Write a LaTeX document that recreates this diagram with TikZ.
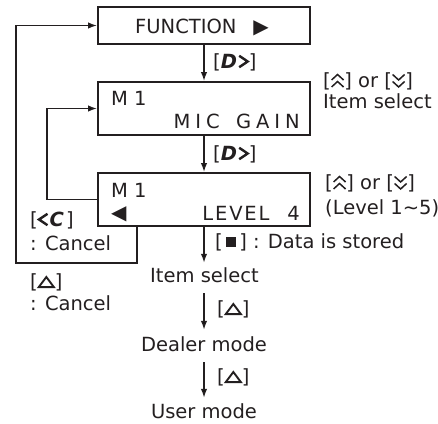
\documentclass[tikz,border=0pt]{standalone}
\usepackage{fontspec}
\setmainfont{DejaVu Sans}
\usetikzlibrary{arrows.meta}
\definecolor{ink}{HTML}{231F20}
\newcommand{\dblup}{\tikz[baseline=0pt,x=1pt,y=1pt,line width=1.5pt,line join=miter]{\draw (0,0)--(6,5.5)--(12,0);\draw (0,7)--(6,12.5)--(12,7);}}
\newcommand{\dbldn}{\tikz[baseline=0pt,x=1pt,y=1pt,line width=1.5pt,line join=miter]{\draw (0,12.5)--(6,7)--(12,12.5);\draw (0,5.5)--(6,0)--(12,5.5);}}
\newcommand{\trikey}{\tikz[baseline=0pt,x=1pt,y=1pt,line width=1.9pt,line join=miter]\draw (0.9,0.9)--(16,0.9)--(8.5,11)--cycle;}
\newcommand{\sqkey}{\tikz[baseline=0pt,x=1pt,y=1pt]\fill (0,1.5) rectangle (10,11.5);}
\newcommand{\rchev}{\tikz[baseline=0pt,x=1pt,y=1pt,line width=2.4pt,line join=miter]\draw (0,0.8)--(8.5,6.5)--(0,12.2);}
\newcommand{\lchev}{\tikz[baseline=0pt,x=1pt,y=1pt,line width=2.4pt,line join=miter]\draw (8.5,0.8)--(0,6.5)--(8.5,12.2);}
\newcommand{\Dkey}{[\textbf{\textit{D}}\kern1pt\rchev]}
\newcommand{\Ckey}{[\lchev\kern1pt\textbf{\textit{C}}\kern2pt]}
\begin{document}
\begin{tikzpicture}[x=1pt,y=-1pt,line cap=butt,
  box/.style={draw=ink,line width=1.9pt,minimum width=212pt,inner sep=0pt},
  txt/.style={inner sep=0pt,text=ink,font=\fontsize{19.5pt}{23pt}\selectfont},
  flowtxt/.style={txt,text height=14pt,text depth=4pt},
  conn/.style={draw=ink,line width=1.5pt,-{Latex[length=9pt,width=6.5pt]}}]
\useasboundingbox (0,0) rectangle (438,423);
% boxes
\node[box,minimum height=37pt] (fn) at (204,25.5) {};
\node[box,minimum height=53pt] (mic) at (204,108.5) {};
\node[box,minimum height=53pt] (lvl) at (204,199.5) {};
% box texts
\node[txt,anchor=base west] (fnt) at (135,33) {FUNCTION\hspace{17pt}{\fontsize{20pt}{20pt}\selectfont ▶}};
\node[txt,anchor=base west] (m1a) at (111,105) {M 1};
\node[txt,anchor=base east] (mg) at (300,128) {M\kern5pt I\kern5pt C\kern5pt\ \kern5pt G\kern5pt A\kern5pt I\kern5pt N};
\node[txt,anchor=base west] (m1b) at (111,197) {M 1};
\node[txt,anchor=base west] (lt) at (111,219.5) {{\fontsize{20pt}{20pt}\selectfont ◀}};
\node[txt,anchor=base east] (lv) at (300,220) {L\kern1.8pt E\kern1.8pt V\kern1.8pt E\kern1.8pt L\hspace{18pt}4};
% right labels
\node[txt,anchor=base west] (r1) at (323,87) {[\dblup] or [\dbldn]};
\node[txt,anchor=base west] (r2) at (323,108) {Item select};
\node[txt,anchor=base west] (r3) at (325,189) {[\dblup] or [\dbldn]};
\node[txt,anchor=base west] (r4) at (325,214) {(Level 1\char`\~5)};
% arrow labels
\node[txt,anchor=base west] (d1) at (213,68) {\Dkey};
\node[txt,anchor=base west] (d2) at (213,160) {\Dkey};
\node[txt,anchor=base west] (st) at (215,248) {[\,\sqkey\,] : Data is stored};
\node[txt,anchor=base west] (u1) at (217,315) {[\trikey]};
\node[txt,anchor=base west] (u2) at (217,383) {[\trikey]};
% flow texts
\node[flowtxt,anchor=base] (itm) at (204.5,282) {Item select};
\node[flowtxt,anchor=base] (dlr) at (204,351) {Dealer mode};
\node[flowtxt,anchor=base] (usr) at (204,418) {User mode};
% left labels
\node[txt,anchor=base west] (c1) at (30,226) {\Ckey};
\node[txt,anchor=base west] (c2) at (30,250) {: Cancel};
\node[txt,anchor=base west] (c3) at (30,288) {[\trikey]};
\node[txt,anchor=base west] (c4) at (30,310) {: Cancel};
% connectors
\draw[conn] (fn.south) -- (mic.north);
\draw[conn] (mic.south) -- (lvl.north);
\draw[conn,shorten >=5pt] (lvl.south) -- (lvl.south |- itm.north);
\draw[conn,shorten <=7pt,shorten >=7pt] (itm.south -| lvl.south) -- (dlr.north -| lvl.south);
\draw[conn,shorten <=7pt,shorten >=6pt] (dlr.south -| lvl.south) -- (usr.north -| lvl.south);
% loops
\coordinate (ol) at (137,263);
\coordinate (oc) at (16,263);
\draw[conn] (lvl.south -| ol) -- (ol) -- (oc) |- (fn.west);
\coordinate (il) at (47,150);
\draw[conn] (lvl.west) -| (il) |- (mic.west);
\end{tikzpicture}
\end{document}
